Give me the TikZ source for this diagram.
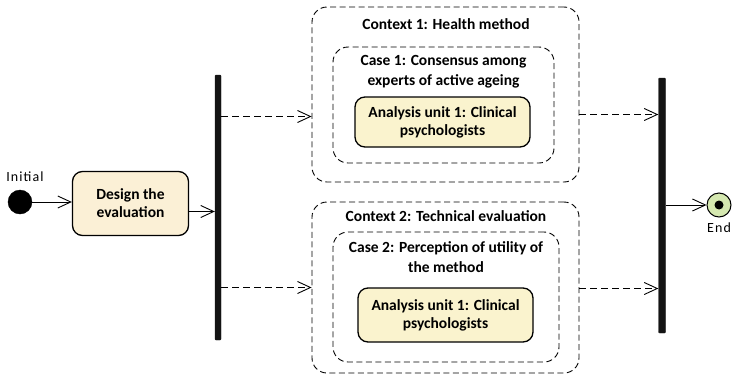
\documentclass[tikz,border=0pt]{standalone}
\usepackage{fontspec}
\setmainfont{Carlito}
\newfontfamily\lblfont[LetterSpace=8]{Carlito}
\usetikzlibrary{shapes, arrows.meta, calc, positioning}
\definecolor{actfill}{RGB}{251,240,214}
\definecolor{unitfill}{RGB}{250,243,206}
\definecolor{endfill}{RGB}{213,232,176}
\definecolor{barblack}{RGB}{20,20,20}

\tikzset{
    action/.style={draw, line width=1.3pt, rounded corners=10pt, fill=actfill, align=center, font=\bfseries\fontsize{15.5}{18}\selectfont},
    region/.style={draw, line width=0.9pt, dash pattern=on 6pt off 3.5pt, rounded corners=15pt},
    regtitle/.style={align=center, font=\bfseries\fontsize{15.5}{20}\selectfont},
    syncbar/.style={draw=barblack, fill=barblack, rounded corners=1pt, minimum width=6pt, inner sep=0pt},
    flow/.style={line width=0.9pt, -{Straight Barb[length=13pt,width=12pt]}},
    dflow/.style={flow, dash pattern=on 7pt off 4pt},
    tag/.style={font=\lblfont\fontsize{14}{16}\selectfont},
}

\begin{document}
\begin{tikzpicture}[x=1pt, y=-1pt]
        \useasboundingbox (0,0) rectangle (736,375);

        \node[draw, circle, fill=black, minimum size=24pt, inner sep=0pt] (init) at (20, 202) {};
        \node[tag] (initlbl) at (25, 177) {Initial};

        \node[action, minimum width=116pt, minimum height=64pt] (design) at (130.5, 203.5) {Design the\\evaluation};

        \node[syncbar, minimum height=265pt] (fork) at (218, 207.5) {};
        \node[syncbar, minimum height=255pt, minimum width=7pt] (join) at (662, 205.5) {};

        % context 1
        \node[region, minimum width=267pt, minimum height=175pt] (ctx1) at (445.5, 94.5) {};
        \node[regtitle] (ctx1lbl) at (446, 24) {Context 1: Health method};
        \node[region, minimum width=221pt, minimum height=116pt] (case1) at (443.5, 105) {};
        \node[regtitle] (case1lbl) at (443.5, 72) {Case 1: Consensus among\\experts of active ageing};
        \node[action, fill=unitfill, minimum width=175pt, minimum height=50pt] (unit1) at (442.5, 122) {Analysis unit 1: Clinical\\psychologists};

        % context 2
        \node[region, minimum width=267pt, minimum height=171pt] (ctx2) at (445.5, 287.5) {};
        \node[regtitle] (ctx2lbl) at (446, 216) {Context 2: Technical evaluation};
        \node[region, minimum width=226pt, minimum height=130pt] (case2) at (446, 297) {};
        \node[regtitle] (case2lbl) at (446, 257) {Case 2: Perception of utility of\\the method};
        \node[action, fill=unitfill, minimum width=175pt, minimum height=54pt] (unit2) at (445.5, 315) {Analysis unit 1: Clinical\\psychologists};

        \node[draw, line width=1pt, circle, fill=endfill, minimum size=24pt, inner sep=0pt] (final) at (719, 205) {};
        \node[circle, fill=black, minimum size=9pt, inner sep=0pt] (finaldot) at (final) {};
        \node[tag] (finallbl) at (719, 228) {End};

        \coordinate (c1in) at ([yshift=-22pt]ctx1.west);
        \coordinate (c2in) at (ctx2.west);
        \coordinate (c1out) at ([yshift=-20pt]ctx1.east);
        \coordinate (c2out) at ([yshift=-1pt]ctx2.east);
        \coordinate (dout) at ([yshift=-8pt]design.east);

        \draw [flow] (init) -- (design.west |- init);
        \draw [flow] (dout) -- (fork.west |- dout);
        \draw [dflow] (fork.east |- c1in) -- (c1in);
        \draw [dflow] (fork.east |- c2in) -- (c2in);
        \draw [dflow] (c1out) -- (join.west |- c1out);
        \draw [dflow] (c2out) -- (join.west |- c2out);
        \draw [flow] (join.east |- final) -- (final);
    \end{tikzpicture}
\end{document}
